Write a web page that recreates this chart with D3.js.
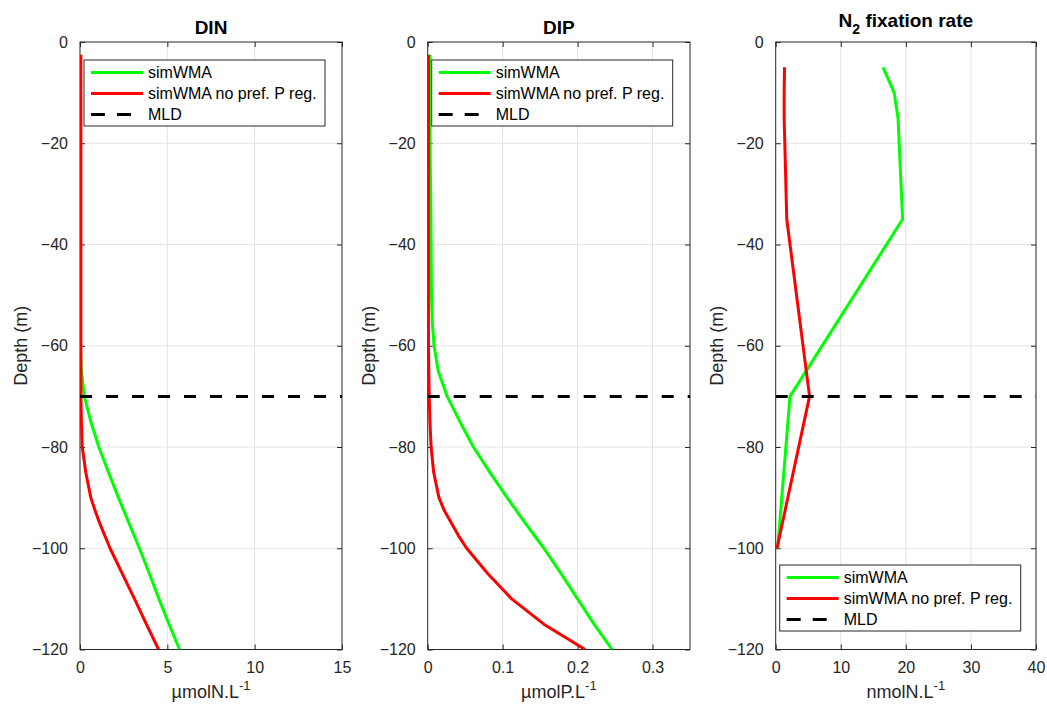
<!DOCTYPE html>
<html>
<head>
<meta charset="utf-8">
<script src="https://cdn.jsdelivr.net/npm/d3@7"></script>
<style>
  html, body { margin: 0; padding: 0; background: #ffffff; }
  svg { display: block; font-family: "Liberation Sans", Arial, Helvetica, sans-serif; }
</style>
</head>
<body>
<svg id="chart" width="1047" height="706"></svg>
<script>
// ---------------- DATA ----------------
const seriesNames = ["simWMA", "simWMA no pref. P reg.", "MLD"];
const depthTicks = [0, -20, -40, -60, -80, -100, -120];
const mldDepth = -70;

// DIN (µmolN/L)
const dinDepthSim = [-2.5, -10, -20, -30, -40, -50, -60, -65, -70, -75, -80, -85, -90, -95, -100, -105, -110, -115, -120];
const dinSim      = [0.02, 0.02, 0.02, 0.02, 0.02, 0.02, 0.03, 0.08, 0.25, 0.62, 1.08, 1.63, 2.2, 2.8, 3.4, 3.97, 4.52, 5.1, 5.7];
const dinDepthNoPref = [-2.5, -10, -20, -30, -40, -50, -60, -70, -75, -80, -85, -90, -92.5, -95, -100, -105, -110, -115, -120];
const dinNoPref      = [0.05, 0.05, 0.05, 0.05, 0.05, 0.05, 0.05, 0.05, 0.08, 0.13, 0.33, 0.62, 0.86, 1.12, 1.72, 2.42, 3.12, 3.8, 4.5];
const dinTicks = [0, 5, 10, 15];

// DIP (µmolP/L)
const dipDepthSim = [-2.5, -10, -20, -30, -40, -50, -55, -60, -65, -70, -75, -80, -85, -90, -95, -100, -105, -110, -115, -120];
const dipSim      = [0.003, 0.003, 0.003, 0.004, 0.0045, 0.005, 0.006, 0.0085, 0.014, 0.026, 0.043, 0.061, 0.083, 0.106, 0.13, 0.155, 0.178, 0.2, 0.222, 0.246];
const dipDepthNoPref = [-2.5, -10, -20, -30, -40, -50, -60, -70, -75, -80, -85, -90, -92.5, -97.5, -100, -105, -110, -115, -120];
const dipNoPref      = [0.001, 0.001, 0.001, 0.001, 0.001, 0.001, 0.001, 0.002, 0.003, 0.0045, 0.008, 0.015, 0.022, 0.041, 0.052, 0.08, 0.112, 0.155, 0.21];
const dipTicks = [0, 0.1, 0.2, 0.3];

// N2 fixation rate (nmolN/L)
const n2Depth  = [-5, -10, -15, -35, -70, -100];
const n2Sim    = [16.5, 18.2, 18.8, 19.5, 2.2, 0.3];
const n2NoPref = [1.35, 1.3, 1.3, 1.7, 5.2, 0.2];
const n2Ticks = [0, 10, 20, 30, 40];

// ---------------- STYLE ----------------
const colSim = "#00ff00", colNoPref = "#ff0000", colAxis = "#262626", colGrid = "#e3e3e3";
const svg = d3.select("#chart");
const plotTop = 42, plotBottom = 649.5;

const panels = [
  { left: 80, right: 342, xmax: 15, ticks: dinTicks, fmt: d => String(d),
    title: [{t: "DIN"}], unit: "µmolN.L",
    sim: dinDepthSim.map((d, i) => [dinSim[i], d]),
    nop: dinDepthNoPref.map((d, i) => [dinNoPref[i], d]),
    legend: "top" },
  { left: 427.7, right: 690, xmax: 0.35, ticks: dipTicks, fmt: d => String(d),
    title: [{t: "DIP"}], unit: "µmolP.L",
    sim: dipDepthSim.map((d, i) => [dipSim[i], d]),
    nop: dipDepthNoPref.map((d, i) => [dipNoPref[i], d]),
    legend: "top" },
  { left: 775.7, right: 1036, xmax: 40, ticks: n2Ticks, fmt: d => String(d),
    title: [{t: "N"}, {t: "2", sub: true}, {t: " fixation rate"}], unit: "nmolN.L",
    sim: n2Depth.map((d, i) => [n2Sim[i], d]),
    nop: n2Depth.map((d, i) => [n2NoPref[i], d]),
    legend: "bottom" }
];

const y = d3.scaleLinear().domain([-120, 0]).range([plotBottom, plotTop]);
const minus = s => s.replace("-", "\u2212");

panels.forEach(p => {
  const x = d3.scaleLinear().domain([0, p.xmax]).range([p.left, p.right]);
  const g = svg.append("g");

  // grid
  g.append("g").selectAll("line").data(p.ticks.filter(t => t > 0 && t < p.xmax)).join("line")
    .attr("x1", d => x(d)).attr("x2", d => x(d)).attr("y1", plotTop).attr("y2", plotBottom)
    .attr("stroke", colGrid).attr("stroke-width", 1);
  g.append("g").selectAll("line").data(depthTicks.filter(t => t > -120 && t < 0)).join("line")
    .attr("y1", d => y(d)).attr("y2", d => y(d)).attr("x1", p.left).attr("x2", p.right)
    .attr("stroke", colGrid).attr("stroke-width", 1);

  // axes (MATLAB style: inward ticks, box)
  const axB = d3.axisBottom(x).tickValues(p.ticks).tickSize(-5).tickPadding(12).tickFormat(p.fmt);
  const axT = d3.axisTop(x).tickValues(p.ticks).tickSize(-5).tickFormat("");
  const axL = d3.axisLeft(y).tickValues(depthTicks).tickSize(-5).tickPadding(12).tickFormat(d => minus(String(d)));
  const axR = d3.axisRight(y).tickValues(depthTicks).tickSize(-5).tickFormat("");
  const styleAxis = sel => {
    sel.selectAll("path").attr("stroke", colAxis).attr("stroke-width", 1);
    sel.selectAll("line").attr("stroke", colAxis);
    sel.selectAll("text").attr("fill", colAxis).attr("font-size", 16)
       .attr("font-family", "'Liberation Sans', Arial, Helvetica, sans-serif");
  };
  g.append("g").attr("transform", `translate(0,${plotBottom})`).call(axB).call(styleAxis);
  g.append("g").attr("transform", `translate(0,${plotTop})`).call(axT).call(styleAxis);
  g.append("g").attr("transform", `translate(${p.left},0)`).call(axL).call(styleAxis);
  g.append("g").attr("transform", `translate(${p.right},0)`).call(axR).call(styleAxis);
  g.selectAll(".domain").remove();
  g.append("rect").attr("x", p.left).attr("y", plotTop).attr("width", p.right - p.left).attr("height", plotBottom - plotTop)
    .attr("fill", "none").attr("stroke", colAxis).attr("stroke-width", 1);

  // clip
  const clipId = "clip" + Math.round(p.left);
  svg.append("clipPath").attr("id", clipId).append("rect")
    .attr("x", p.left).attr("y", plotTop).attr("width", p.right - p.left).attr("height", plotBottom - plotTop);

  const line = d3.line().x(d => x(d[0])).y(d => y(d[1]));
  const data = g.append("g").attr("clip-path", `url(#${clipId})`);
  data.append("path").datum(p.sim).attr("d", line).attr("fill", "none")
    .attr("stroke", colSim).attr("stroke-width", 3).attr("stroke-linejoin", "round");
  data.append("path").datum(p.nop).attr("d", line).attr("fill", "none")
    .attr("stroke", colNoPref).attr("stroke-width", 3).attr("stroke-linejoin", "round");
  data.append("line").attr("x1", x(0)).attr("x2", x(p.xmax)).attr("y1", y(mldDepth)).attr("y2", y(mldDepth))
    .attr("stroke", "#000").attr("stroke-width", 3).attr("stroke-dasharray", "12,14");

  // title
  const cx = (p.left + p.right) / 2;
  const hasSub = p.title.some(s => s.sub);
  const tt = g.append("text").attr("x", cx).attr("y", hasSub ? 27 : 34).attr("text-anchor", "middle")
    .attr("font-size", 19).attr("font-weight", "bold").attr("fill", "#000");
  p.title.forEach(s => {
    const ts = tt.append("tspan").text(s.t);
    if (s.sub) ts.attr("font-size", 14).attr("dy", 7);
    else if (hasSub && s.t.startsWith(" ")) ts.attr("dy", -7);
  });

  // x label
  const xl = g.append("text").attr("x", cx).attr("y", 698).attr("text-anchor", "middle")
    .attr("font-size", 18).attr("fill", colAxis);
  xl.append("tspan").text(p.unit);
  xl.append("tspan").text("-1").attr("font-size", 13).attr("dy", -8);

  // y label
  g.append("text").attr("transform", `translate(${p.left - 53},${(plotTop + plotBottom) / 2}) rotate(-90)`)
    .attr("text-anchor", "middle").attr("font-size", 18).attr("fill", colAxis).text("Depth (m)");

  // legend
  const lx = p.left + 4;
  const ly = p.legend === "top" ? 60 : 565;
  const lw = 241, lh = 66;
  const lg = g.append("g");
  lg.append("rect").attr("x", lx).attr("y", ly).attr("width", lw).attr("height", lh)
    .attr("fill", "#fff").attr("stroke", colAxis).attr("stroke-width", 1);
  const rows = [
    { name: seriesNames[0], color: colSim, dash: null },
    { name: seriesNames[1], color: colNoPref, dash: null },
    { name: seriesNames[2], color: "#000", dash: "14,12" }
  ];
  rows.forEach((r, i) => {
    const ry = ly + 12.5 + i * 21;
    lg.append("line").attr("x1", lx + 7).attr("x2", lx + 59).attr("y1", ry).attr("y2", ry)
      .attr("stroke", r.color).attr("stroke-width", 3).attr("stroke-dasharray", r.dash);
    lg.append("text").attr("x", lx + 64).attr("y", ry).attr("dy", "0.35em")
      .attr("font-size", 16).attr("fill", "#000").text(r.name);
  });
});
</script>
</body>
</html>
